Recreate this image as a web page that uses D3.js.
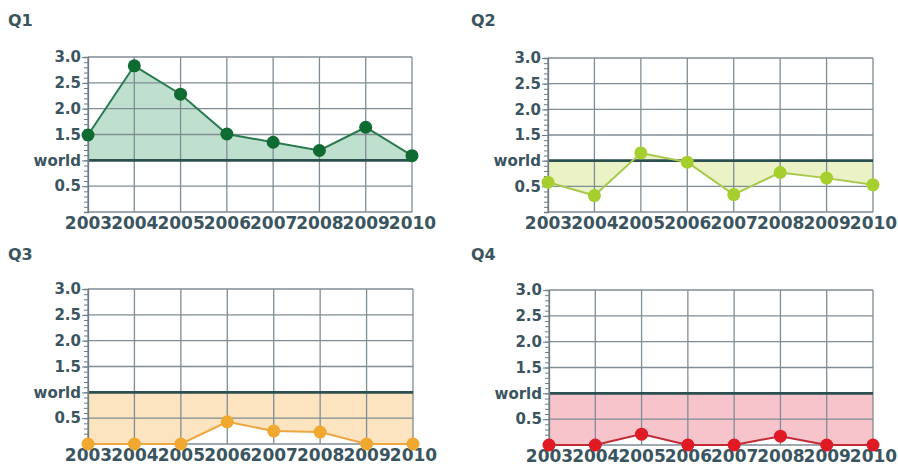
<!DOCTYPE html>
<html>
<head>
<meta charset="utf-8">
<script src="https://cdn.jsdelivr.net/npm/d3@7"></script>
<style>
  body { margin: 0; background: #fff; }
  svg text { font-family: "DejaVu Sans", Verdana, sans-serif; font-weight: bold; fill: #3b5560; }
</style>
</head>
<body>
<svg id="chart" width="898" height="469"></svg>
<script>
// data
const years = ["2003","2004","2005","2006","2007","2008","2009","2010"];
const q1 = [1.49, 2.83, 2.28, 1.51, 1.35, 1.19, 1.64, 1.09];
const q2 = [0.58, 0.32, 1.15, 0.97, 0.34, 0.77, 0.66, 0.53];
const q3 = [0.0, 0.0, 0.0, 0.43, 0.25, 0.23, 0.0, 0.0];
const q4 = [0.0, 0.0, 0.21, 0.0, 0.0, 0.17, 0.0, 0.0];
const yTicks = [0.5, 1, 1.5, 2, 2.5, 3];
const worldValue = 1;

const panels = [
  {title:"Q1", values:q1, left:88,  right:412, top:57,  bottom:212, tx:8,   ty:26,
   fill:"#bfe0cf", line:"#2a7a50", dot:"#0f6b32"},
  {title:"Q2", values:q2, left:548, right:873, top:58,  bottom:212, tx:471, ty:26,
   fill:"#eaf2c6", line:"#a9c94e", dot:"#a6cf2e"},
  {title:"Q3", values:q3, left:88,  right:413, top:289, bottom:444, tx:8,   ty:260,
   fill:"#fce4c0", line:"#eea640", dot:"#f0a830"},
  {title:"Q4", values:q4, left:549, right:873, top:290, bottom:445, tx:471, ty:260,
   fill:"#f7c4cc", line:"#c22a34", dot:"#e01a24"}
];

const svg = d3.select("#chart");

panels.forEach(function(p){
  const x = d3.scalePoint().domain(years).range([p.left, p.right]).padding(0);
  const y = d3.scaleLinear().domain([0, 3]).range([p.bottom, p.top]);
  const data = years.map((yr, i) => ({year: yr, v: p.values[i]}));

  const g = svg.append("g");

  // title
  g.append("text")
    .attr("x", p.tx).attr("y", p.ty)
    .style("font-size", "16px")
    .text(p.title);

  // area between series and world line
  g.append("path")
    .datum(data)
    .attr("fill", p.fill)
    .attr("d", d3.area()
      .x(d => x(d.year))
      .y0(y(worldValue))
      .y1(d => y(d.v)));

  // grid
  g.selectAll(".hgrid")
    .data(yTicks.filter(t => t !== worldValue))
    .enter().append("line")
    .attr("x1", p.left).attr("x2", p.right)
    .attr("y1", d => y(d)).attr("y2", d => y(d))
    .attr("stroke", "#7f8d95").attr("stroke-width", 1.3);

  g.selectAll(".vgrid")
    .data(years)
    .enter().append("line")
    .attr("x1", d => x(d)).attr("x2", d => x(d))
    .attr("y1", p.top).attr("y2", p.bottom)
    .attr("stroke", "#7f8d95").attr("stroke-width", 1.3);

  g.append("line")
    .attr("x1", p.left).attr("x2", p.right)
    .attr("y1", p.bottom).attr("y2", p.bottom)
    .attr("stroke", "#7f8d95").attr("stroke-width", 1.3);

  // world line
  g.append("line")
    .attr("x1", p.left).attr("x2", p.right)
    .attr("y1", y(worldValue)).attr("y2", y(worldValue))
    .attr("stroke", "#2c4f50").attr("stroke-width", 2.6);

  // y axis with minor ticks
  const yAxis = g.append("g")
    .attr("transform", "translate(" + p.left + ",0)")
    .call(d3.axisLeft(y).tickValues(d3.range(0, 3.001, 0.1)).tickSize(4).tickFormat(""));
  yAxis.select(".domain").attr("stroke", "#6d7d86").attr("stroke-width", 1.3);
  yAxis.selectAll(".tick line").attr("stroke", "#6d7d86");

  const yLab = g.append("g")
    .attr("transform", "translate(" + p.left + ",0)")
    .call(d3.axisLeft(y).tickValues(yTicks).tickSize(6).tickPadding(1)
      .tickFormat(d => d === worldValue ? "world" : d3.format(".1f")(d)));
  yLab.select(".domain").remove();
  yLab.selectAll(".tick line").attr("stroke", "#6d7d86");
  yLab.selectAll(".tick text").style("font-size", "15px");

  // x axis labels
  const xAx = g.append("g")
    .attr("transform", "translate(0," + p.bottom + ")")
    .call(d3.axisBottom(x).tickSize(0).tickPadding(5));
  xAx.select(".domain").remove();
  xAx.selectAll(".tick text").style("font-size", "17px");

  // series line and dots
  g.append("path")
    .datum(data)
    .attr("fill", "none")
    .attr("stroke", p.line)
    .attr("stroke-width", 2)
    .attr("d", d3.line().x(d => x(d.year)).y(d => y(d.v)));

  g.selectAll(".dot")
    .data(data)
    .enter().append("circle")
    .attr("cx", d => x(d.year))
    .attr("cy", d => y(d.v))
    .attr("r", 6.5)
    .attr("fill", p.dot);
});
</script>
</body>
</html>
